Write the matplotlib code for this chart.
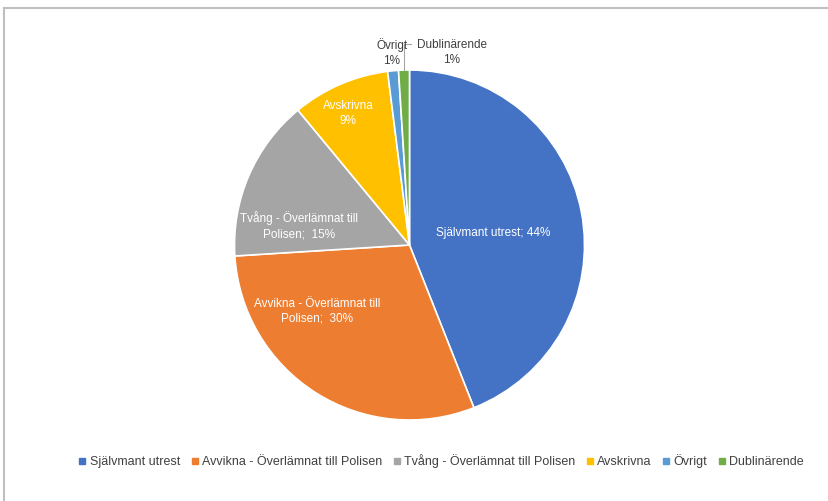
import matplotlib
matplotlib.use("Agg")
import matplotlib.pyplot as plt
from matplotlib.lines import Line2D
import numpy as np

plt.rcParams['font.family'] = ['Liberation Sans Narrow', 'Liberation Sans', 'DejaVu Sans']

categories = ["Självmant utrest", "Avvikna - Överlämnat till Polisen",
              "Tvång - Överlämnat till Polisen", "Avskrivna", "Övrigt", "Dublinärende"]
shares = [44, 30, 15, 9, 1, 1]
slice_labels = ["Självmant utrest; 44%", "Avvikna - Överlämnat till\nPolisen;  30%",
                "Tvång - Överlämnat till\nPolisen;  15%", "Avskrivna\n9%", "Övrigt\n1%",
                "Dublinärende\n1%"]
colors = ["#4472C4", "#ED7D31", "#A5A5A5", "#FFC000", "#5B9BD5", "#70AD47"]

# label placement in pie units (radius = 1)
label_pos = [(0.48, 0.07), (-0.53, -0.38), (-0.63, 0.11), (-0.35, 0.75), (-0.10, 1.10), (0.24, 1.10)]
label_col = ["white", "white", "white", "white", "#404040", "#404040"]

W, H = 829, 501
fig = plt.figure(figsize=(W / 100, H / 100), dpi=100)
r_px = 175
cx, cy = 409.5, 245
ax = fig.add_axes([(cx - r_px) / W, (H - cy - r_px) / H, 2 * r_px / W, 2 * r_px / H])

wedges, _ = ax.pie(shares, colors=colors, startangle=90, counterclock=False,
                   wedgeprops=dict(edgecolor="white", linewidth=1.2))
ax.set_xlim(-1, 1)
ax.set_ylim(-1, 1)
ax.set_aspect("auto")
ax.axis("off")

for txt, (x, y), c in zip(slice_labels, label_pos, label_col):
    ax.text(x, y, txt, ha="center", va="center", color=c, fontsize=8.5, linespacing=1.3)

# leader line for the smallest slice
w = wedges[-1]
ang = np.deg2rad((w.theta1 + w.theta2) / 2)
lx, ly = np.cos(ang), np.sin(ang)
ax.plot([lx, lx, lx + 0.04], [ly, 1.15, 1.15], color="#A6A6A6", lw=0.8, clip_on=False)

handles = [Line2D([], [], marker="s", ls="", color=c, markersize=4) for c in colors]
fig.legend(handles, categories, loc="center", bbox_to_anchor=(0.532, 1 - 461 / H), ncol=6,
           frameon=False, fontsize=9, handlelength=0.7, handletextpad=0.25,
           columnspacing=0.8, labelcolor="#404040")

# chart frame (top and left edges only)
fig.add_artist(Line2D([4 / W, 1], [1 - 8 / H, 1 - 8 / H], color="#BFBFBF", lw=1.5,
                      transform=fig.transFigure))
fig.add_artist(Line2D([4 / W, 4 / W], [0, 1 - 8 / H], color="#BFBFBF", lw=1.5,
                      transform=fig.transFigure))

fig.savefig("out.png", dpi=100)
